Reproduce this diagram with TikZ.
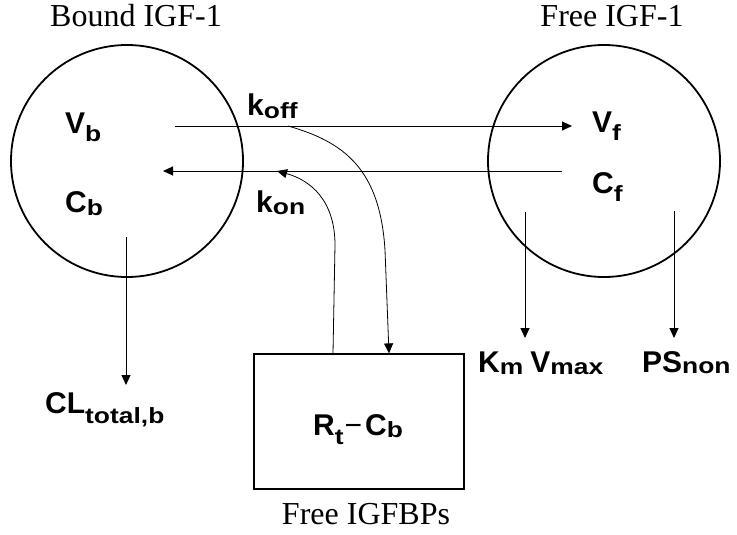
\documentclass[tikz,border=0pt]{standalone}
\usepackage{fontspec}
\newfontfamily\ttlfont{Liberation Serif}
\newfontfamily\labfont{Liberation Sans}
\usetikzlibrary{arrows.meta}
\newcommand{\lab}[3][2pt]{{\fontsize{30}{30}\selectfont\labfont\bfseries #2}\raisebox{-#1}{\scalebox{1.2}[1]{\fontsize{22}{22}\selectfont\labfont\bfseries #3}}}
\begin{document}
\begin{tikzpicture}[x=1pt,y=-1pt,
  comp/.style={circle, draw, line width=1.8pt, minimum size=232pt, inner sep=0pt},
  pool/.style={draw, line width=1.2pt, minimum width=210pt, minimum height=135pt, inner sep=0pt},
  ttl/.style={font=\fontsize{32}{32}\selectfont\ttlfont, inner sep=0pt, anchor=base},
  txt/.style={inner sep=0pt, anchor=base west},
  flow/.style={line width=1pt, -{Triangle[length=10pt,width=9pt]}},
  curvearrow/.style={line width=0.8pt, -{Triangle[length=10pt,width=9pt]}}]
\useasboundingbox (0,0) rectangle (737,535);
% compartments
\node[comp] (bound) at (127,161) {};
\node[comp] (free) at (604,161) {};
\node[pool] (bp) at (359,421.5) {};
% titles
\node[ttl] (tbound) at (136,27) {Bound IGF-1};
\node[ttl] (tfree) at (612,27) {Free IGF-1};
\node[ttl] (tbp) at (366,524) {Free IGFBPs};
% labels
\node[txt] (vb) at (65,133) {\lab[8pt]{V}{b}};
\node[txt] (cb) at (65,212) {\lab[3pt]{C}{b}};
\node[txt] (vf) at (592,132) {\lab[8pt]{V}{f}};
\node[txt] (cf) at (592,193) {\lab[8pt]{C}{f}};
\node[txt] (koff) at (247,115) {\lab[3pt]{k}{off}};
\node[txt] (kon) at (256,212) {\lab[2pt]{k}{on}};
\node[txt] (clb) at (45,413) {\lab[10pt]{CL}{total,b}};
\node[txt] (kmv) at (478,372) {\lab[2pt]{K}{m}\hspace{7pt}\lab[2pt]{V}{max}};
\node[txt] (psn) at (642,372) {\lab[1pt]{PS}{non}};
\node[txt] (rc) at (313,435) {\lab[9pt]{R}{t}\hspace{1pt}{\fontsize{30}{30}\selectfont\labfont −}\hspace{3pt}\lab[2pt]{C}{b}};
% coordinates of free ends
\coordinate (offS) at (175,126);
\coordinate (offE) at (572,126);
\coordinate (onS) at (562,171);
\coordinate (onE) at (163,171);
\coordinate (konTip) at (277,171);
\coordinate (koffS) at (288,126);
\coordinate (clS) at (126,237);
\coordinate (clE) at (126,385);
\coordinate (kmS) at (525,212);
\coordinate (kmE) at (525,338);
\coordinate (psS) at (674,211);
\coordinate (psE) at (674,338);
\coordinate (konS) at (bp.north west -| 333,0);
\coordinate (koffE) at (bp.north west -| 389,0);
% flows
\draw[flow] (offS) -- (offE);
\draw[flow] (onS) -- (onE);
\draw[flow] (clS) -- (clE);
\draw[flow] (kmS) -- (kmE);
\draw[flow] (psS) -- (psE);
\draw[curvearrow] (konS) -- (335,245) .. controls (335,200) and (310,180) .. (konTip);
\draw[curvearrow] (koffS) .. controls (345,142) and (380,170) .. (385,250) -- (koffE);
\end{tikzpicture}
\end{document}
